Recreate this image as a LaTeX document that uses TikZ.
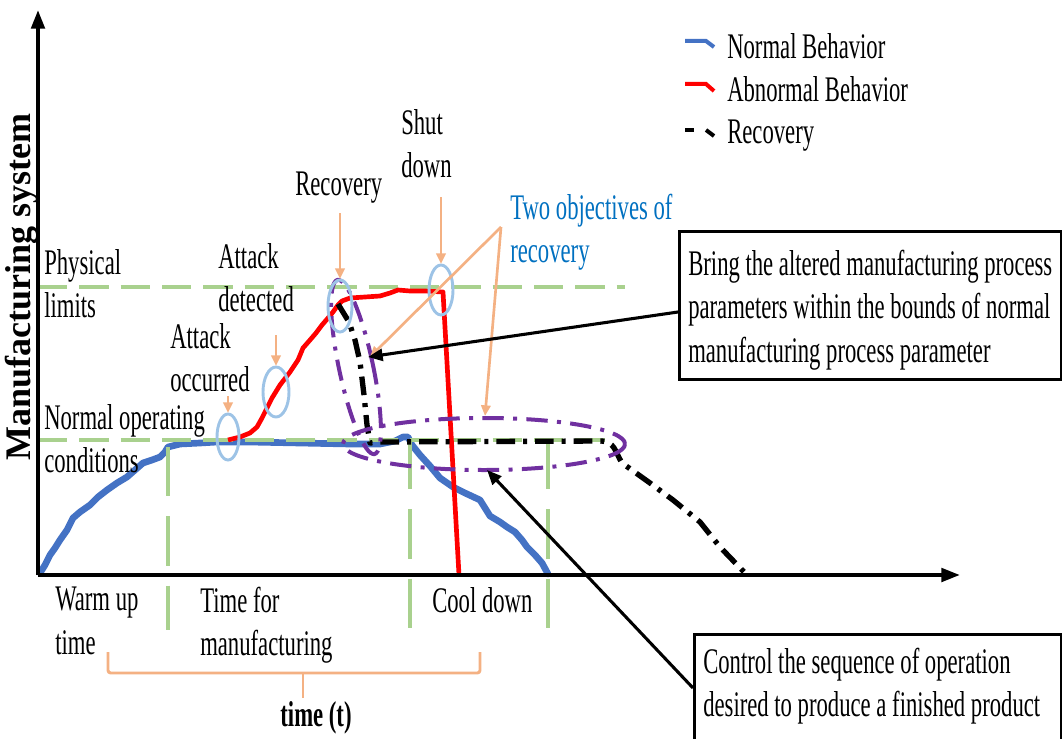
\documentclass[tikz,border=0pt]{standalone}
\usepackage{fontspec}
\setmainfont{Liberation Serif}[FakeStretch=0.63]
\newfontfamily\axisfont{Liberation Serif}
\usetikzlibrary{arrows.meta}

\definecolor{normalblue}{HTML}{4472C4}
\definecolor{limitgreen}{HTML}{A9D18E}
\definecolor{markblue}{HTML}{9DC3E6}
\definecolor{pointorange}{HTML}{F4B183}
\definecolor{goalpurple}{HTML}{7030A0}
\definecolor{notesblue}{HTML}{0070C0}

\tikzset{
  lbl/.style={font=\fontsize{27}{32.4}\selectfont, inner sep=0pt, align=left},
  axisline/.style={line width=3pt, -{Triangle[length=14pt,width=10pt]}},
  normalcurve/.style={normalblue, line width=5pt, line join=round, line cap=round},
  attackcurve/.style={red, line width=3.5pt, line join=round},
  recoverycurve/.style={black, line width=4pt, dash pattern=on 14pt off 6pt on 3pt off 6pt},
  greenhline/.style={limitgreen, line width=3.5pt, dash pattern=on 22pt off 9pt},
  greenvline/.style={limitgreen, line width=2.5pt, dash pattern=on 37pt off 15pt},
  goalring/.style={goalpurple, line width=3pt, dash pattern=on 16pt off 7pt on 3pt off 7pt},
  eventring/.style={markblue, line width=2.2pt},
  pointer/.style={pointorange, line width=2pt, -{Triangle[length=8pt,width=7pt]}},
  notearrow/.style={black, line width=2.3pt, -{Triangle[length=11pt,width=9pt]}},
  notebox/.style={draw=black, line width=2.3pt, fill=white, inner sep=0pt},
}

\begin{document}
\begin{tikzpicture}[x=0.75pt,y=-0.75pt]
\useasboundingbox (0,0) rectangle (1062,738);
\clip (0,0) rectangle (1062,738);

% key points
\coordinate (origin) at (38,575);
\coordinate (ytip) at (38,10);
\coordinate (xtip) at (960,575);

% normal behaviour (blue)
\draw[normalcurve] (40,573) -- (45,565) -- (50,555) -- (55,548) -- (60,540) -- (67,530)
  -- (73,518) -- (80,512) -- (90,505) -- (98,497) -- (107,490) -- (117,483) -- (127,477)
  -- (135,470) -- (143,463) -- (152,460) -- (160,457) -- (165,452) -- (168,447) -- (180,444)
  -- (200,443) -- (217,442) -- (250,442) -- (300,443) -- (350,444) -- (380,444) -- (395,441)
  -- (403,437) -- (408,437) -- (412,445) -- (420,455) -- (430,466) -- (440,478) -- (453,487)
  -- (465,493) -- (480,500) -- (485,508) -- (490,516) -- (500,522) -- (507,527) -- (515,532)
  -- (522,540) -- (527,547) -- (535,555) -- (542,563) -- (548,574);

% reference levels
\draw[greenhline] (38,287) -- (625,287);
\draw[greenhline] (38,440) -- (610,440);
\draw[greenvline] (168,447) -- (168,630);
\draw[greenvline] (410,440) -- (410,630);
\draw[greenvline] (548,440) -- (548,630);

% abnormal behaviour (red)
\draw[attackcurve] (228,440) -- (240,437) -- (250,433) -- (257,427) -- (262,418) -- (267,408)
  -- (272,398) -- (280,385) -- (290,372) -- (298,360) -- (303,348) -- (310,340) -- (316,333)
  -- (322,325) -- (328,318) -- (333,312) -- (338,305) -- (342,301) -- (350,298) -- (365,297)
  -- (380,296) -- (390,293) -- (398,290) -- (410,291) -- (425,291) -- (443,292) -- (459,575);

% recovery (black dash-dot)
\draw[recoverycurve, line join=round] (338,304) -- (349,322) -- (355,340) -- (360,362)
  -- (364,395) -- (367,425) -- (370,443) -- (380,442) -- (600,441)
  .. controls (615,441) and (615,452) .. (622,463) -- (650,483) -- (673,500) -- (700,522)
  -- (720,547) -- (745,573);

% axes
\draw[axisline] (origin) -- (ytip);
\draw[axisline] (origin) -- (xtip);

% objective rings (purple)
\draw[goalring, rotate around={12:(356,367)}] (356,367) ellipse [x radius=17, y radius=89];
\draw[goalring] (484,444) ellipse [x radius=141, y radius=26];

% event rings (light blue)
\draw[eventring] (228,437) ellipse [x radius=11, y radius=23];
\draw[eventring] (276,392) ellipse [x radius=13, y radius=25];
\draw[eventring] (340,306) ellipse [x radius=12, y radius=26];
\draw[eventring] (441,290) ellipse [x radius=12, y radius=25];

% event labels
\node[lbl, anchor=north west] (limits) at (44,249) {Physical\\limits};
\node[lbl, anchor=north west] (normalop) at (44,404) {Normal operating\\conditions};
\node[lbl, anchor=north west] (detected) at (218,243) {Attack\\detected};
\node[lbl, anchor=north west] (occurred) at (170,323) {Attack\\occurred};
\node[lbl, anchor=north west] (recov) at (295,172) {Recovery};
\node[lbl, anchor=north west] (shut) at (401,109) {Shut\\down};
\node[lbl, anchor=north west, text=notesblue] (goals) at (510,194) {Two objectives of\\recovery};

% pointers from labels
\coordinate (occA) at (228,396); \coordinate (occB) at (228,413);
\coordinate (detA) at (276,335); \coordinate (detB) at (276,366);
\coordinate (recA) at (340,213); \coordinate (recB) at (340,279);
\coordinate (shA) at (441,197);  \coordinate (shB) at (441,264);
\coordinate (goalfork) at (501,227);
\coordinate (goalone) at (370,357);
\coordinate (goaltwo) at (485,416);
\draw[pointer] (occA) -- (occB);
\draw[pointer] (detA) -- (detB);
\draw[pointer] (recA) -- (recB);
\draw[pointer] (shA) -- (shB);
\draw[pointer] (goalfork) -- (goalone);
\draw[pointer] (goalfork) -- (goaltwo);

% explanation boxes
\node[notebox, anchor=north west, minimum width=382*0.75pt, minimum height=148*0.75pt] (boxone) at (678,230) {};
\node[lbl, anchor=north west] (boxonetext) at (688,250)
  {Bring the altered manufacturing process\\parameters within the bounds of normal\\manufacturing process parameter};
\node[notebox, anchor=north west, minimum width=367*0.75pt, minimum height=130*0.75pt] (boxtwo) at (693,633) {};
\node[lbl, anchor=north west] (boxtwotext) at (703,648)
  {Control the sequence of operation\\desired to produce a finished product};
\coordinate (boxoneout) at (678,312);
\coordinate (boxtwoout) at (693,688);
\coordinate (ringone) at (368,357);
\coordinate (ringtwo) at (487,470);
\draw[notearrow] (boxoneout) -- (ringone);
\draw[notearrow] (boxtwoout) -- (ringtwo);

% time axis labels
\node[lbl, anchor=north west] (warm) at (55,587) {Warm up\\time};
\node[lbl, anchor=north west] (manu) at (200,587) {Time for\\manufacturing};
\node[lbl, anchor=north west] (cool) at (432,587) {Cool down};
\coordinate (brL) at (108,652);
\coordinate (brR) at (480,652);
\coordinate (brM) at (303,673);
\coordinate (brS) at (303,698);
\draw[pointorange, line width=2.2pt, rounded corners=2pt] (brL) -- (brL |- brM) -- (brR |- brM) -- (brR);
\draw[pointorange, line width=2.2pt] (brM) -- (brS);
\node[lbl, anchor=north, font=\fontsize{27}{32.4}\selectfont\bfseries] (tlabel) at (316,701) {time (t)};
\node[lbl, rotate=90, font=\axisfont\fontsize{27}{32.4}\selectfont\bfseries] (ylabel) at (22,287) {Manufacturing system};

% legend
\coordinate (lgA) at (685,41); \coordinate (lgB) at (706,41); \coordinate (lgC) at (714,47);
\coordinate (lgD) at (685,84); \coordinate (lgE) at (706,84); \coordinate (lgF) at (714,91);
\coordinate (lgG) at (685,130); \coordinate (lgH) at (694,130);
\coordinate (lgI) at (706,130); \coordinate (lgJ) at (714,136);
\draw[normalblue, line width=3pt] (lgA) -- (lgB) -- (lgC);
\draw[red, line width=3pt] (lgD) -- (lgE) -- (lgF);
\draw[black, line width=3pt] (lgG) -- (lgH);
\draw[black, line width=3pt] (lgI) -- (lgJ);
\node[lbl, anchor=north west] (lgnormal) at (727,33) {Normal Behavior};
\node[lbl, anchor=north west] (lgabnormal) at (727,76) {Abnormal Behavior};
\node[lbl, anchor=north west] (lgrecovery) at (727,120) {Recovery};
\end{tikzpicture}
\end{document}
